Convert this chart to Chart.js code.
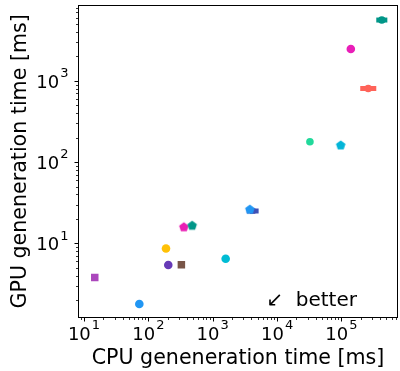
<!DOCTYPE html>
<html>
<head>
<meta charset="utf-8">
<script src="https://cdn.jsdelivr.net/npm/chart.js@4.4.0/dist/chart.umd.min.js"></script>
<style>
  html, body { margin: 0; padding: 0; background: #fff; }
</style>
</head>
<body>
<canvas id="chart" width="400" height="371"></canvas>
<script>
// one entry per run, cpu / gpu time in ms
const runs = ['r1', 'r2', 'r3', 'r4', 'r5', 'r6', 'r7', 'r8', 'r9', 'r10', 'r11', 'r12', 'r13', 'r14', 'r15'];
const cpuTime = [14.7, 72.4, 188, 204, 326, 356, 479, 1590, 4180, 3780, 32400, 97500, 140000, 261000, 424000];
const gpuTime = [3.79, 1.79, 8.63, 5.41, 5.44, 16.0, 16.7, 6.46, 25.0, 26.4, 178, 163, 2470, 806, 5620];
// spread of cpu time (null = no spread visible)
const cpuLow  = [null, null, null, null, null, null, null, null, 3380, null, 30800, null, null, 196000, 348000];
const cpuHigh = [null, null, null, null, null, null, null, null, 5170, null, 34100, null, null, 348000, 517000];

// tick labels as [base, exponent]
const xTickValues = [10, 100, 1000, 10000, 100000];
const xTickLabels = [['10', '1'], ['10', '2'], ['10', '3'], ['10', '4'], ['10', '5']];
const yTickValues = [10, 100, 1000];
const yTickLabels = [['10', '1'], ['10', '2'], ['10', '3']];

const noteText = '↙  better';
const notePos = [6800, 1.69];

const colors = ['#ab47bc', '#2196f3', '#ffc107', '#673ab7', '#795548', '#e91eb4', '#009688', '#00bcd4',
                '#3f51b5', '#2196f3', '#21d99b', '#03b5d8', '#e91eb8', '#ff6359', '#009688'];
const shapes = ['rect', 'circle', 'circle', 'circle', 'rect', 'pentagon', 'pentagon', 'circle',
                'rect', 'pentagon', 'circle', 'pentagon', 'circle', 'circle', 'circle'];

const FONT = 'DejaVu Sans';
const TICK_SIZE = 18;

function pentagon(color, r) {
  const c = document.createElement('canvas');
  const s = Math.ceil(2 * r + 2);
  c.width = s; c.height = s;
  const g = c.getContext('2d');
  g.beginPath();
  for (let i = 0; i < 5; i++) {
    const a = -Math.PI / 2 + i * 2 * Math.PI / 5;
    const px = s / 2 + r * Math.cos(a), py = s / 2 + r * Math.sin(a) + 0.5;
    i ? g.lineTo(px, py) : g.moveTo(px, py);
  }
  g.closePath();
  g.fillStyle = color;
  g.fill();
  return c;
}

const pointStyles = shapes.map((s, i) => s === 'pentagon' ? pentagon(colors[i], 5) : s);
const radii = shapes.map((s, i) => cpuLow[i] != null ? 3.8 : (s === 'rect' ? 5.3 : 4.3));

function logTicks(min, max) {
  const out = [];
  for (let e = Math.floor(Math.log10(min)); e <= Math.ceil(Math.log10(max)); e++) {
    for (let k = 1; k < 10; k++) {
      const v = k * Math.pow(10, e);
      if (v >= min && v <= max) out.push({ value: v });
    }
  }
  return out;
}
const isPow10 = v => Math.abs(Math.log10(v) - Math.round(Math.log10(v))) < 1e-9;

// "10" with a raised exponent, like matplotlib's mathtext
function powLabel(ctx, lab, x, baseY, align) {
  const big = TICK_SIZE + 'px "' + FONT + '"';
  const small = Math.round(TICK_SIZE * 0.7) + 'px "' + FONT + '"';
  ctx.font = big;
  const wb = ctx.measureText(lab[0]).width;
  ctx.font = small;
  const we = ctx.measureText(lab[1]).width;
  const total = wb + 1 + we;
  const left = align === 'center' ? x - total / 2 : x - total;
  ctx.textAlign = 'left';
  ctx.textBaseline = 'alphabetic';
  ctx.font = big;
  ctx.fillText(lab[0], left, baseY);
  ctx.font = small;
  ctx.fillText(lab[1], left + wb + 1, baseY - TICK_SIZE * 0.6);
}

const errorBars = {
  id: 'errorBars',
  beforeDatasetsDraw(chart) {
    const { ctx, scales: { x, y } } = chart;
    ctx.save();
    ctx.lineWidth = 5;
    cpuLow.forEach((lo, i) => {
      if (lo == null) return;
      const py = y.getPixelForValue(gpuTime[i]);
      ctx.strokeStyle = colors[i];
      ctx.beginPath();
      ctx.moveTo(x.getPixelForValue(lo), py);
      ctx.lineTo(x.getPixelForValue(cpuHigh[i]), py);
      ctx.stroke();
    });
    ctx.restore();
  }
};

const frame = {
  id: 'frame',
  afterDraw(chart) {
    const { ctx, chartArea: a, scales: { x, y } } = chart;
    const l = Math.round(a.left) + 0.5, r = Math.round(a.right) - 0.5;
    const t = Math.round(a.top) + 0.5, b = Math.round(a.bottom) - 0.5;
    ctx.save();
    ctx.strokeStyle = '#000';
    ctx.fillStyle = '#000';
    ctx.lineWidth = 1;
    ctx.strokeRect(l, t, r - l, b - t);
    // ticks, pointing outwards
    x.ticks.forEach(tk => {
      const px = Math.round(x.getPixelForValue(tk.value)) + 0.5;
      const len = isPow10(tk.value) ? 4 : 2.5;
      ctx.lineWidth = isPow10(tk.value) ? 1 : 0.8;
      ctx.beginPath(); ctx.moveTo(px, b); ctx.lineTo(px, b + len); ctx.stroke();
    });
    y.ticks.forEach(tk => {
      const py = Math.round(y.getPixelForValue(tk.value)) + 0.5;
      const len = isPow10(tk.value) ? 4 : 2.5;
      ctx.lineWidth = isPow10(tk.value) ? 1 : 0.8;
      ctx.beginPath(); ctx.moveTo(l, py); ctx.lineTo(l - len, py); ctx.stroke();
    });
    // tick labels
    xTickValues.forEach((v, i) => powLabel(ctx, xTickLabels[i], x.getPixelForValue(v), b + 22, 'center'));
    yTickValues.forEach((v, i) => powLabel(ctx, yTickLabels[i], l - 10, y.getPixelForValue(v) + 7, 'right'));
    // note
    ctx.font = '20px "' + FONT + '"';
    ctx.textBaseline = 'alphabetic';
    ctx.textAlign = 'left';
    ctx.fillText(noteText, x.getPixelForValue(notePos[0]), y.getPixelForValue(notePos[1]));
    ctx.restore();
  }
};

new Chart(document.getElementById('chart'), {
  type: 'scatter',
  data: {
    labels: runs,
    datasets: [{
      data: cpuTime.map((c, i) => ({ x: c, y: gpuTime[i] })),
      backgroundColor: colors,
      borderWidth: 0,
      pointStyle: pointStyles,
      pointRadius: radii,
      pointHoverRadius: radii
    }]
  },
  options: {
    responsive: false,
    animation: false,
    events: [],
    layout: { autoPadding: false, padding: { top: 5, right: 2, left: 0, bottom: 0 } },
    plugins: { legend: { display: false }, tooltip: { enabled: false } },
    scales: {
      x: {
        type: 'logarithmic',
        min: 8.07, max: 757000,
        afterBuildTicks: s => { s.ticks = logTicks(s.min, s.max); },
        afterFit: s => { s.height = 53.3; s.paddingLeft = 0; s.paddingRight = 0; },
        grid: { display: false, drawTicks: false },
        border: { display: false },
        ticks: { display: false },
        title: { display: true, text: 'CPU geneneration time [ms]', color: '#000', font: { family: FONT, size: 20.6 }, padding: { top: 0, bottom: 0 } }
      },
      y: {
        type: 'logarithmic',
        min: 1.213, max: 8610,
        afterBuildTicks: s => { s.ticks = logTicks(s.min, s.max); },
        afterFit: s => { s.width = 78; s.paddingTop = 0; s.paddingBottom = 0; },
        grid: { display: false, drawTicks: false },
        border: { display: false },
        ticks: { display: false },
        title: { display: true, text: 'GPU geneneration time [ms]', color: '#000', font: { family: FONT, size: 20.6 }, padding: { top: 8, bottom: 0 } }
      }
    }
  },
  plugins: [errorBars, frame]
});
</script>
</body>
</html>
